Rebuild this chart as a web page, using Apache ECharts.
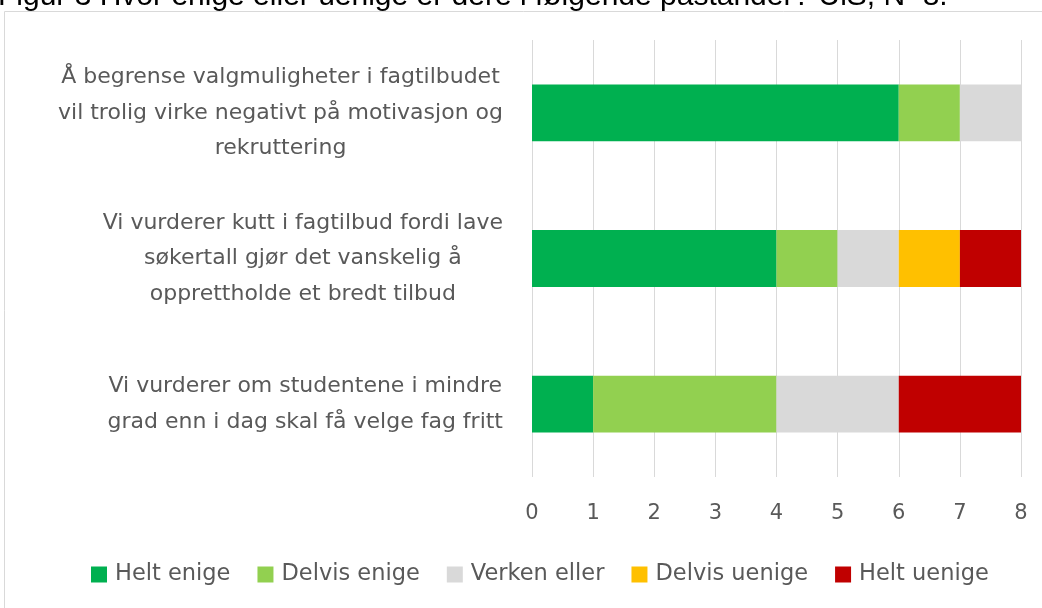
<!DOCTYPE html>
<html><head><meta charset="utf-8">
<script src="https://cdn.jsdelivr.net/npm/echarts@6/dist/echarts.min.js"></script>
<style>html,body{margin:0;padding:0;background:#fff}#c{width:1042px;height:608px}</style>
</head><body><div id="c"></div>
<script>
const categories = [
  "Å begrense valgmuligheter i fagtilbudet\nvil trolig virke negativt på motivasjon og\nrekruttering",
  "Vi vurderer kutt i fagtilbud fordi lave\nsøkertall gjør det vanskelig å\nopprettholde et bredt tilbud",
  "Vi vurderer om studentene i mindre\ngrad enn i dag skal få velge fag fritt"
];
const seriesNames = ["Helt enige", "Delvis enige", "Verken eller", "Delvis uenige", "Helt uenige"];
const heltEnige = [6, 4, 1];
const delvisEnige = [1, 1, 3];
const verkenEller = [1, 1, 2];
const delvisUenige = [0, 1, 0];
const heltUenige = [0, 1, 2];
const xTicks = [0, 1, 2, 3, 4, 5, 6, 7, 8];
const titleText = "Figur 3 Hvor enige eller uenige er dere i følgende påstander? UiS, N=8.";

const colors = ["#00B050", "#92D050", "#D9D9D9", "#FFC000", "#C00000"];
const values = [heltEnige, delvisEnige, verkenEller, delvisUenige, heltUenige];
const FONT = "DejaVu Sans";
const TXT = "#595959";

const chart = echarts.init(document.getElementById('c'), null, {renderer: 'canvas'});
chart.setOption({
  animation: false,
  color: colors,
  textStyle: {fontFamily: FONT},
  graphic: [
    {type: 'rect', shape: {x: 4.5, y: 11.5, width: 1100, height: 700}, style: {fill: 'none', stroke: '#D9D9D9', lineWidth: 1}, silent: true},
    {type: 'text', x: -2, y: 12, style: {text: titleText, font: '30px "Liberation Sans"', fill: '#000', verticalAlign: 'bottom', align: 'left'}}
  ],
  grid: {left: 532, right: 21, top: 40, bottom: 131, containLabel: false},
  xAxis: {
    type: 'value', min: xTicks[0], max: xTicks[xTicks.length - 1], interval: 1,
    axisLine: {show: false}, axisTick: {show: false},
    splitLine: {show: true, lineStyle: {color: '#D9D9D9', width: 1}},
    axisLabel: {color: TXT, fontSize: 21, margin: 26, fontFamily: FONT}
  },
  yAxis: {
    type: 'category', data: categories, inverse: true,
    axisLine: {show: false}, axisTick: {show: false},
    axisLabel: {
      color: TXT, fontSize: 22, fontFamily: FONT, align: 'right', margin: 29, lineHeight: 35.5,
      formatter: v => v.split('\n').map(l => '{c|' + l + '}').join('\n'),
      rich: {c: {align: 'center', color: TXT, fontSize: 22, fontFamily: FONT, lineHeight: 35.5}}
    }
  },
  legend: {
    bottom: 17, left: 86, itemWidth: 16, itemHeight: 16, itemGap: 27,
    icon: 'rect', textStyle: {color: TXT, fontSize: 22.5, fontFamily: FONT, padding: [0, 0, 0, 3]},
    data: seriesNames
  },
  series: seriesNames.map((n, i) => ({
    name: n, type: 'bar', stack: 'total', data: values[i],
    barWidth: '39%', itemStyle: {color: colors[i]}
  }))
});
</script></body></html>
